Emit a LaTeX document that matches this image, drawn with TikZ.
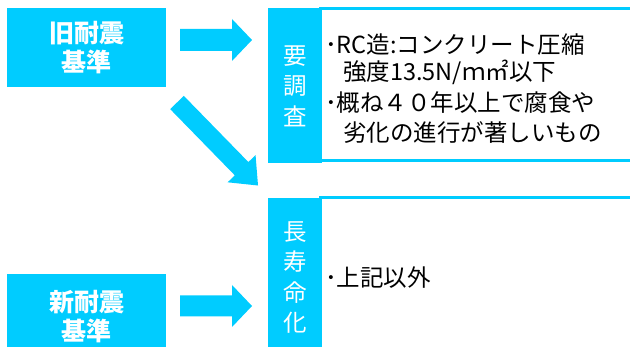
\documentclass[tikz,border=0pt]{standalone}
\usepackage{fontspec}
\newfontfamily\jp{Noto Sans CJK JP}
\definecolor{sky}{HTML}{00CCFF}
\tikzset{
  bluebox/.style={fill=sky, draw=none, inner sep=0pt, outer sep=0pt},
  headtxt/.style={text=white, font=\jp\bfseries\fontsize{25}{29}\selectfont, align=center},
  vtxt/.style={text=white, font=\jp\fontsize{23.5}{30.5}\selectfont, align=center},
  bodytxt/.style={font=\jp\fontsize{23.5}{28}\selectfont, inner sep=0pt, anchor=base west},
  areabox/.style={draw=none, inner sep=0pt, outer sep=0pt},
  rulel/.style={draw=sky, line width=3pt},
  pics/blkarrow/.style n args={4}{code={
    \fill[sky] (0,-#2) -- ({#1-#4},-#2) -- ({#1-#4},-#3) -- (#1,0)
      -- ({#1-#4},#3) -- ({#1-#4},#2) -- (0,#2) -- cycle;}}
}
\begin{document}
\begin{tikzpicture}[x=1pt,y=-1pt]
\useasboundingbox (0,0) rectangle (630,347);
\clip (0,0) rectangle (630,347);

% left boxes
\node[bluebox, headtxt, minimum width=159pt, minimum height=79pt] (old) at (86.5,47.5) {旧耐震\\基準};
\node[bluebox, headtxt, minimum width=159pt, minimum height=86pt] (new) at (86.5,317) {新耐震\\基準};

% label boxes
\node[bluebox, vtxt, minimum width=54pt, minimum height=155pt] (lab1) at (295,86) {要\\調\\査};
\node[bluebox, vtxt, minimum width=54pt, minimum height=159pt] (lab2) at (295,277.5) {長\\寿\\命\\化};

% description areas
\node[areabox, minimum width=318pt, minimum height=152.5pt] (d1) at (481,84.75) {};
\node[areabox, minimum width=318pt, minimum height=162.5pt] (d2) at (481,278.75) {};
\draw[rulel] ([xshift=-3pt]d1.north west) -- (d1.north east);
\draw[rulel] ([xshift=-3pt]d1.south west) -- (d1.south east);
\draw[rulel] ([xshift=-3pt]d2.north west) -- (d2.north east);

% texts
\node[bodytxt] (l1) at (325,54) {･RC造:コンクリート圧縮};
\node[bodytxt] (l2) at (343,81) {強度13.5N/ｍ㎡以下};
\node[bodytxt] (l3) at (325,112) {･概ね４０年以上で腐食や};
\node[bodytxt] (l4) at (343,142) {劣化の進行が著しいもの};
\node[bodytxt] (l5) at (325,287) {･上記以外};

% block arrows
\pic at (180,40) {blkarrow={72}{11}{21}{20}};
\pic at (180,306) {blkarrow={72}{10.5}{21}{20}};
\pic[rotate=-45.7] at (177,102.5) {blkarrow={116}{9.5}{19.5}{23.5}};
\end{tikzpicture}
\end{document}
